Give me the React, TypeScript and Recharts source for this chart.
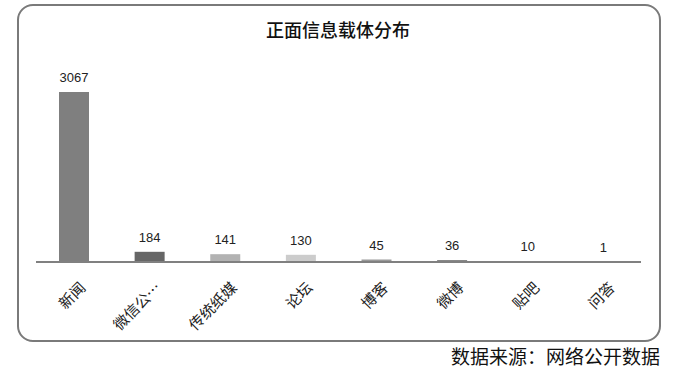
import React from 'react';
import { BarChart, Bar, XAxis, YAxis, Cell, LabelList } from 'recharts';

const categories: string[] = ['新闻', '微信公众号', '传统纸媒', '论坛', '博客', '微博', '贴吧', '问答'];
const tickLabels: string[] = ['新闻', '微信公…', '传统纸媒', '论坛', '博客', '微博', '贴吧', '问答'];
const counts: number[] = [3067, 184, 141, 130, 45, 36, 10, 1];
const barColors: string[] = ['#7f7f7f', '#666666', '#b2b2b2', '#cccccc', '#999999', '#888888', '#aaaaaa', '#bbbbbb'];

const data = categories.map((name, i) => ({ name, label: tickLabels[i], value: counts[i] }));

const cjk = '"Noto Sans CJK SC", "Noto Sans", sans-serif';

const AngledTick: React.FC<any> = ({ x, y, index }) => (
  <g transform={`translate(${x + 9},${y + 15})`}>
    <text
      transform="rotate(-45)"
      textAnchor="end"
      dy="0.35em"
      fontSize={15}
      fill="#222"
      fontFamily={cjk}
    >
      {tickLabels[index]}
    </text>
  </g>
);

const App: React.FC = () => {
  return (
    <div style={{ position: 'absolute', left: 0, top: 0, width: 676, height: 381, background: '#fff' }}>
      <div
        style={{
          position: 'absolute', left: 17, top: 4, width: 640, height: 334,
          border: '2px solid #7a7a7a', borderRadius: 16,
        }}
      />
      <div
        style={{
          position: 'absolute', left: 0, top: 16, width: 676, textAlign: 'center',
          fontFamily: cjk, fontSize: 18, fontWeight: 500, color: '#111', lineHeight: '26px',
        }}
      >
        正面信息载体分布
      </div>
      <div
        style={{
          position: 'absolute', right: 16, top: 344, fontFamily: cjk,
          fontSize: 19, color: '#111', lineHeight: '24px',
        }}
      >
        数据来源：网络公开数据
      </div>
      <div style={{ position: 'absolute', left: 0, top: 0 }}>
        <BarChart
          width={676}
          height={381}
          data={data}
          margin={{ top: 68, right: 35, left: 36, bottom: 59 }}
          barCategoryGap="60%"
        >
          <YAxis hide width={0} domain={[0, 3500]} />
          <XAxis
            dataKey="name"
            height={60}
            interval={0}
            tickLine={false}
            axisLine={{ stroke: '#808080', strokeWidth: 2 }}
            tick={<AngledTick />}
          />
          <Bar dataKey="value" isAnimationActive={false} barSize={30}>
            {data.map((d, i) => (
              <Cell key={d.name} fill={barColors[i]} />
            ))}
            <LabelList
              dataKey="value"
              position="top"
              offset={10}
              fontSize={13}
              fill="#222"
              fontFamily='"Liberation Sans", Arial, sans-serif'
            />
          </Bar>
        </BarChart>
      </div>
    </div>
  );
};

export default App;
